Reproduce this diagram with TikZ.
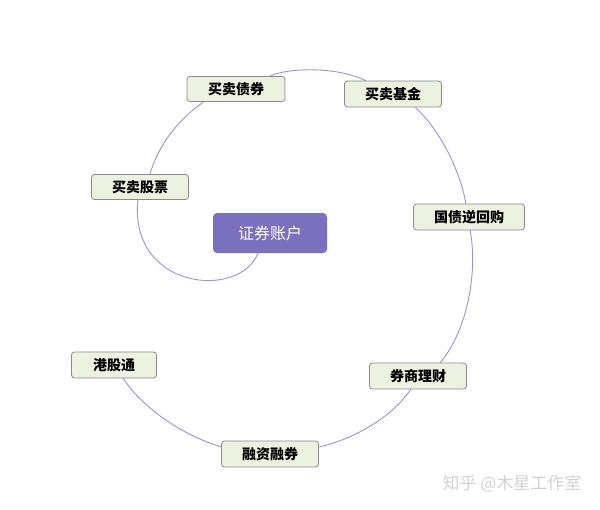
\documentclass[tikz,border=0pt]{standalone}
\usepackage{fontspec}
\newfontfamily\cjk{Noto Sans CJK SC}
\definecolor{boxfill}{HTML}{EDF1DF}
\definecolor{boxline}{HTML}{8A8A8A}
\definecolor{acc}{HTML}{7B6FC0}
\definecolor{edge}{HTML}{9A96C6}
\definecolor{wm}{HTML}{D2D2D2}
\tikzset{
  item/.style={draw=boxline, fill=boxfill, rounded corners=3pt, line width=0.8pt,
    minimum height=25pt, inner xsep=0pt, font=\cjk\bfseries\fontsize{14}{16}\selectfont, text=black},
  account/.style={fill=acc, rounded corners=4pt, minimum width=114pt, minimum height=40pt,
    font=\cjk\fontsize{16}{18}\selectfont, text=white},
  link/.style={draw=edge, line width=0.9pt}
}
\begin{document}
\begin{tikzpicture}[x=1pt,y=-1pt]
\useasboundingbox[fill=white] (0,0) rectangle (600,509);
% connectors (drawn first, boxes cover them)
\coordinate (a1) at (258,253);
\coordinate (s1) at (138,199);
\coordinate (s2) at (150,174);
\coordinate (b1) at (205,101);
\coordinate (b2) at (270,76);
\coordinate (f1) at (366,81);
\coordinate (f2) at (415,107);
\coordinate (g1) at (466,204);
\coordinate (g2) at (470,230);
\coordinate (l1) at (440,363);
\coordinate (l2) at (411,389);
\coordinate (r1) at (319,447);
\coordinate (r2) at (222,447);
\coordinate (h1) at (123,378);
\draw[link] (a1) .. controls (240,300) and (128,290) .. (s1);
\draw[link] (s1) -- (s2);
\draw[link] (s2) .. controls (160,140) and (183,116) .. (b1);
\draw[link] (b2) .. controls (290,67) and (340,67) .. (f1);
\draw[link] (f2) .. controls (440,130) and (460,170) .. (g1);
\draw[link] (g2) .. controls (478,270) and (468,330) .. (l1);
\draw[link] (l2) .. controls (390,420) and (350,440) .. (r1);
\draw[link] (r2) .. controls (180,435) and (140,405) .. (h1);
% nodes
\node[account] (acct) at (270,233) {证券账户};
\node[item, minimum width=98pt] (bond) at (236,89) {买卖债券};
\node[item, minimum width=97pt, minimum height=26pt] (fund) at (393,94) {买卖基金};
\node[item, minimum width=97pt] (stock) at (140,187) {买卖股票};
\node[item, minimum width=111pt, minimum height=26pt] (repo) at (469,217) {国债逆回购};
\node[item, minimum width=85pt, minimum height=26pt] (hk) at (114,365) {港股通};
\node[item, minimum width=97pt, minimum height=26pt] (wealth) at (418,376) {券商理财};
\node[item, minimum width=97pt, minimum height=26pt] (margin) at (270,454) {融资融券};
\node[font=\cjk\fontsize{17}{19}\selectfont, text=wm, anchor=west] (wmk) at (439,484) {知乎 @木星工作室};
\end{tikzpicture}
\end{document}
